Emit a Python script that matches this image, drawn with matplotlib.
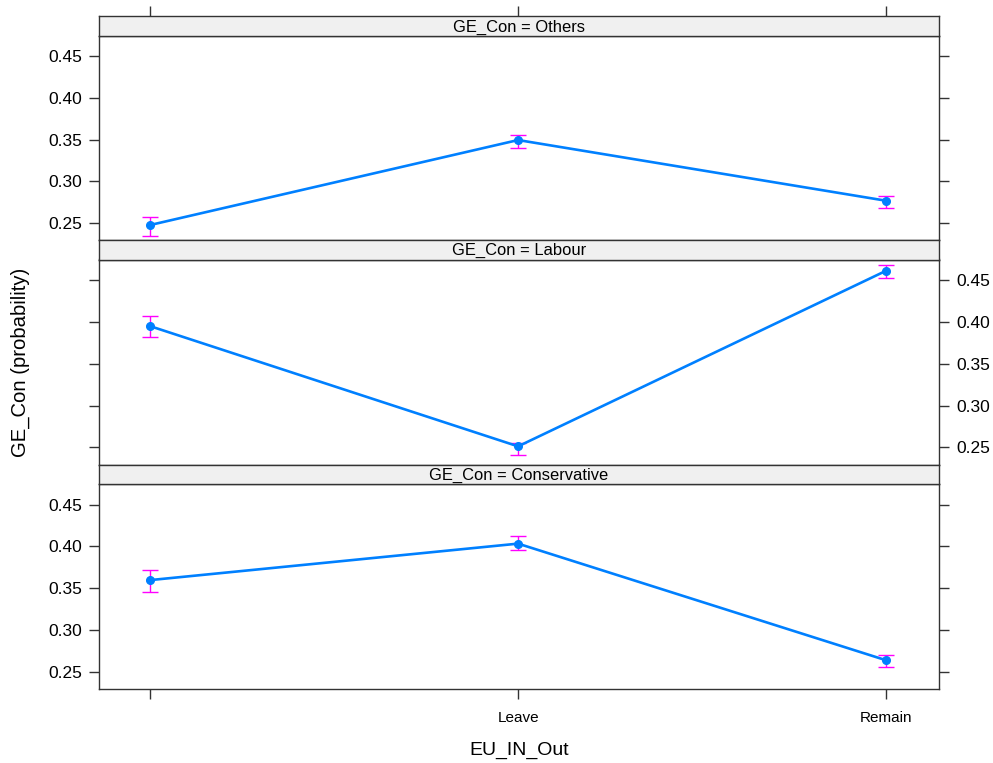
import matplotlib
matplotlib.use("Agg")
import matplotlib.pyplot as plt

plt.rcParams['font.family'] = ['Liberation Sans', 'DejaVu Sans']

# data
categories = ["", "Leave", "Remain"]
panels = ["Others", "Labour", "Conservative"]
others_fit = [0.2475, 0.3496, 0.2767]
others_lo = [0.2346, 0.3400, 0.2679]
others_hi = [0.2575, 0.3560, 0.2820]
labour_fit = [0.3949, 0.2512, 0.4611]
labour_lo = [0.3821, 0.2408, 0.4528]
labour_hi = [0.4069, 0.2552, 0.4683]
cons_fit = [0.3597, 0.4033, 0.2639]
cons_lo = [0.3453, 0.3956, 0.2560]
cons_hi = [0.3713, 0.4120, 0.2699]
yticks = [0.25, 0.30, 0.35, 0.40, 0.45]

fits = [others_fit, labour_fit, cons_fit]
los = [others_lo, labour_lo, cons_lo]
his = [others_hi, labour_hi, cons_hi]

W, H = 993, 763
fig = plt.figure(figsize=(W / 100, H / 100), dpi=100)

left, right = 99, 939
# (strip top, strip bottom/panel top, panel bottom) in pixels from top
rows = [(16, 36, 240), (240, 259.5, 464.5), (464.5, 484, 689)]
frame_col = '#333333'
xlim = (0.861, 3.144)
ylim = (0.2295, 0.4746)
xs = [1, 2, 3]
tick_len = 7.2


def fig_rect(top, bottom):
    return [left / W, 1 - bottom / H, (right - left) / W, (bottom - top) / H]


for i, (st, pt, pb) in enumerate(rows):
    ax = fig.add_axes(fig_rect(pt, pb))
    sax = fig.add_axes(fig_rect(st, pt))

    # strip
    sax.set_facecolor('#F0F0F0')
    sax.set_xlim(xlim)
    sax.set_yticks([])
    for s in sax.spines.values():
        s.set_color(frame_col)
        s.set_linewidth(1.0)
    sax.text(0.5, 0.45, "GE_Con = " + panels[i], transform=sax.transAxes,
             ha='center', va='center', fontsize=11.9)
    if i == 0:
        sax.set_xticks(xs)
        sax.tick_params(axis='x', top=True, bottom=False, labeltop=False,
                        labelbottom=False, direction='out', length=tick_len,
                        width=1.0, color=frame_col)
    else:
        sax.set_xticks([])

    # panel
    fit, lo, hi = fits[i], los[i], his[i]
    yerr = [[f - l for f, l in zip(fit, lo)], [h - f for f, h in zip(fit, hi)]]
    ax.errorbar(xs, fit, yerr=yerr, fmt='none', ecolor='#FF00FF',
                elinewidth=1.0, capsize=5.8, capthick=1.0, zorder=2)
    ax.plot(xs, fit, color='#0080FF', lw=1.9, zorder=3)
    ax.plot(xs, fit, 'o', color='#0080FF', markersize=5.5, zorder=4)
    ax.set_xlim(xlim)
    ax.set_ylim(ylim)
    for s in ax.spines.values():
        s.set_color(frame_col)
        s.set_linewidth(1.0)

    ax.set_yticks(yticks)
    ax.set_yticklabels(["%.2f" % v for v in yticks])
    if i == 1:
        ax.tick_params(axis='y', left=True, right=True, labelleft=False,
                       labelright=True)
    else:
        ax.tick_params(axis='y', left=True, right=True, labelleft=True,
                       labelright=False)
    ax.tick_params(axis='y', direction='out', length=tick_len, width=1.0,
                   color=frame_col, labelsize=12.5, pad=5)

    ax.set_xticks(xs)
    if i == 2:
        ax.set_xticklabels(categories)
        ax.tick_params(axis='x', bottom=True, top=False, direction='out',
                       length=tick_len, width=1.0, color=frame_col,
                       labelsize=11, pad=9)
    else:
        ax.tick_params(axis='x', bottom=False, top=False, labelbottom=False)

fig.text(519 / W, 1 - 750 / H, "EU_IN_Out", ha='center', va='center',
         fontsize=14)
fig.text(20 / W, 1 - 362 / H, "GE_Con (probability)", ha='center',
         va='center', rotation=90, fontsize=14.6)

fig.savefig('out.png', dpi=100)
